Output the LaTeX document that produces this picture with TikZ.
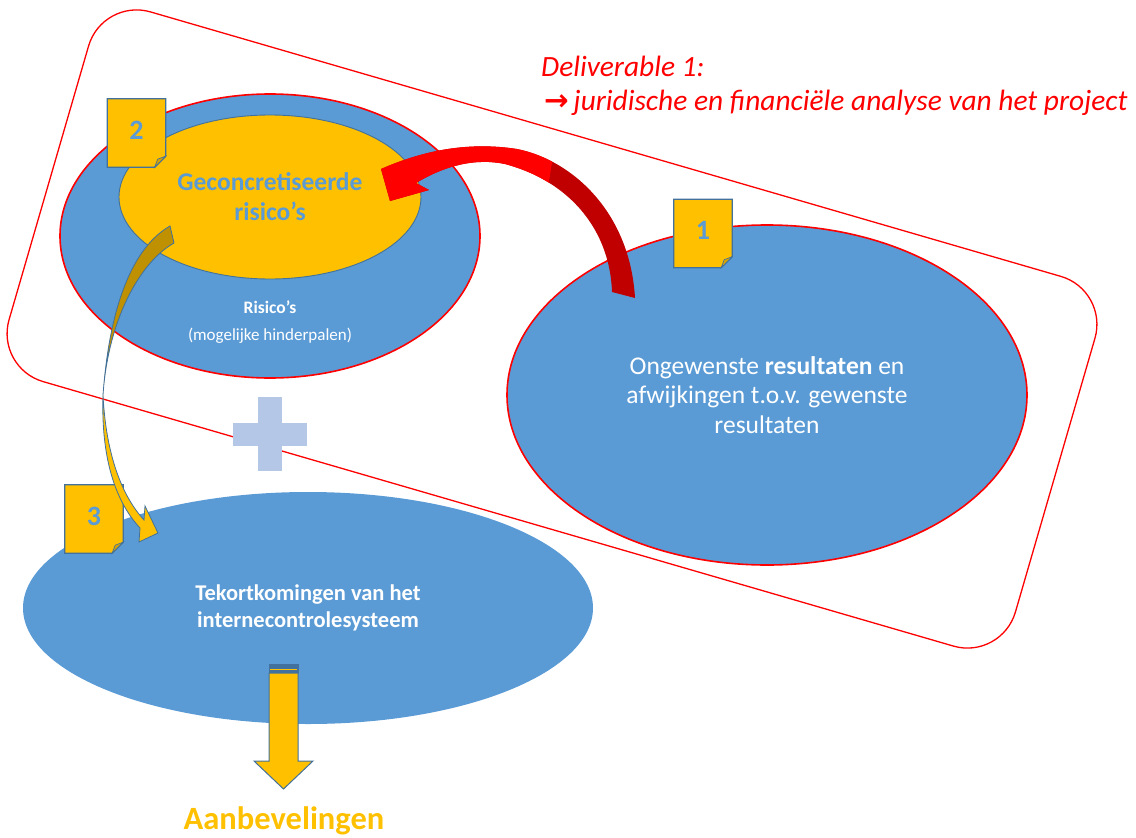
\documentclass[tikz,border=0pt]{standalone}
\usepackage{fontspec}
\setmainfont{Carlito}
\newfontfamily\arrowfont{DejaVu Sans}
\usetikzlibrary{shapes.geometric}

\definecolor{accentblue}{HTML}{5B9BD5}
\definecolor{edgeblue}{HTML}{41719C}
\definecolor{gold}{HTML}{FFC000}
\definecolor{darkgold}{HTML}{BF9000}
\definecolor{flapgold}{HTML}{D9A300}
\definecolor{plusblue}{HTML}{B4C7E7}
\definecolor{darkred}{HTML}{C00000}

% outline of the curved red arrow (head at the left, pointing down-left)
\newcommand\redbandpath{(381,169) .. controls (420,152) and (465,141) .. (517,149)
  .. controls (572,160) and (630,212) .. (635,298) -- (612,292)
  .. controls (610,232) and (572,182) .. (505,164)
  .. controls (476,158) and (446,165) .. (416,183) -- (429,190) -- (390,201) -- cycle}

% numbered note with a folded corner
\newcommand\notebadge[3]{%
  \node[badgebox] (#1) at #2 {};
  \filldraw[fill=gold, draw=edgeblue, line width=1.3pt]
    (#1.north west) -- (#1.north east) -- ([yshift=11pt]#1.south east)
    -- ([xshift=-11pt]#1.south east) -- (#1.south west) -- cycle;
  \filldraw[fill=flapgold, draw=edgeblue, line width=0.7pt]
    ([yshift=11pt]#1.south east) -- ([xshift=-11pt]#1.south east)
    -- ([xshift=-8pt,yshift=8pt]#1.south east) -- cycle;
  \node[badgedigit] (#1-digit) at ([yshift=3pt]#1.center) {#3};}

\begin{document}
\begin{tikzpicture}[x=1pt,y=-1pt,
  blob/.style={ellipse, fill=accentblue, inner sep=0pt, text=white, align=center},
  redrim/.style={draw=red, line width=1.6pt},
  badgebox/.style={rectangle, minimum width=58pt, minimum height=68pt, inner sep=0pt},
  badgedigit/.style={text=accentblue, font=\bfseries\fontsize{28}{30}\selectfont, inner sep=0pt}]
\useasboundingbox (0,0) rectangle (1136,838);

% frame around the first deliverable
\node[draw=red, line width=1.3pt, rounded corners=50pt, minimum width=1048pt,
      minimum height=385pt, inner sep=0pt, rotate=-16.2] (frame) at (552,329) {};

% red caption
\node[anchor=base west, text=red, inner sep=0pt,
      font=\itshape\fontsize{29.4}{34}\selectfont] (deliv) at (541,76) {Deliverable 1:};
\node[anchor=base west, text=red, inner sep=0pt,
      font=\itshape\fontsize{29.4}{34}\selectfont] (delivsub) at (544,110)
      {{\arrowfont\upshape\bfseries →}\,juridische en financiële analyse van het project};

% ellipses
\node[blob, redrim, minimum width=420pt, minimum height=284pt] (risks) at (270,236) {};
\node[ellipse, fill=gold, draw=edgeblue, line width=0.9pt, inner sep=0pt,
      minimum width=302pt, minimum height=164pt, text=accentblue, align=center,
      font=\bfseries\fontsize{25.5}{30}\selectfont] (concrete) at (270,197)
      {Geconcretiseerde\\risico’s};
\node[text=white, font=\bfseries\fontsize{17.5}{20}\selectfont] (risklabel) at (270,307) {Risico’s};
\node[text=white, font=\fontsize{17}{20}\selectfont] (riskhint) at (270,336) {(mogelijke hinderpalen)};

\node[blob, redrim, minimum width=520pt, minimum height=340pt,
      font=\fontsize{25.5}{29.5}\selectfont] (results) at (767,395)
      {Ongewenste \textbf{resultaten} en\\afwijkingen t.o.v. gewenste\\resultaten};

\node[blob, minimum width=570pt, minimum height=232pt,
      font=\bfseries\fontsize{22.5}{27}\selectfont] (controls) at (308,608)
      {Tekortkomingen van het\\internecontrolesysteem};

% plus sign
\fill[plusblue] (258,397) rectangle (282,471);
\fill[plusblue] (233,423) rectangle (307,446);

% numbered notes
\notebadge{note2}{(136.5,133)}{2}
\notebadge{note1}{(703,233.5)}{1}
\notebadge{note3}{(94,519)}{3}

% curved red arrow from the results to the concrete risks
\fill[darkred] \redbandpath;
\begin{scope}
  \clip (300,100) -- (562,100) -- (546,200) -- (300,230) -- cycle;
  \fill[red] \redbandpath;
\end{scope}

% curved gold arrow from the concrete risks down to the control shortcomings
\filldraw[fill=darkgold, draw=edgeblue, line width=0.8pt]
  (170,226) .. controls (135,246) and (110,300) .. (103,395)
  .. controls (108,320) and (140,262) .. (174,243) -- cycle;
\filldraw[fill=gold, draw=edgeblue, line width=0.8pt]
  (103,395) .. controls (101,455) and (114,500) .. (140,528)
  -- (139,542) -- (158,533) -- (145,506) -- (144,520)
  .. controls (122,496) and (106,455) .. (103,395) -- cycle;

% recommendations
\node[anchor=base, text=gold, inner sep=0pt,
      font=\bfseries\fontsize{32.5}{36}\selectfont] (advice) at (284,829) {Aanbevelingen};
\filldraw[fill=gold, draw=edgeblue, line width=1pt]
  (269,673) -- (298,673) -- (298,761) -- (313,761) -- (283.5,789)
  -- (254,761) -- (269,761) -- cycle;
\fill[edgeblue] (268.5,664) rectangle (298.5,673);
\draw[gold, line width=1.2pt] (270,669.5) -- (297,669.5);
\end{tikzpicture}
\end{document}
